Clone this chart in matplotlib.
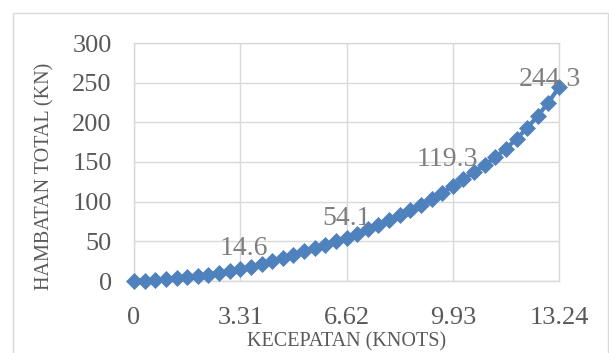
import matplotlib
matplotlib.use("Agg")
import matplotlib.pyplot as plt
from matplotlib.patches import Rectangle

# Ship speed (knots) and total resistance (kN)
speed_knots = [0, 0.331, 0.662, 0.993, 1.324, 1.655, 1.986, 2.317, 2.648, 2.979,
               3.31, 3.641, 3.972, 4.303, 4.634, 4.965, 5.296, 5.627, 5.958, 6.289,
               6.62, 6.951, 7.282, 7.613, 7.944, 8.275, 8.606, 8.937, 9.268, 9.599,
               9.93, 10.261, 10.592, 10.923, 11.254, 11.585, 11.916, 12.247, 12.578, 12.909,
               13.24]
total_resistance_kn = [0, 0.6, 1.3, 2.1, 3.2, 4.6, 6.3, 8.1, 10.1, 12.3,
                       14.6, 18.2, 21.9, 25.6, 29.4, 33.3, 37.3, 41.4, 45.6, 49.8,
                       54.1, 59.5, 65.1, 71.0, 77.1, 83.3, 89.7, 96.4, 103.4, 111.0,
                       119.3, 128.0, 137.0, 146.0, 156.0, 167.0, 179.0, 193.0, 208.0, 225.0,
                       244.3]

x_ticks = [0, 3.31, 6.62, 9.93, 13.24]
x_tick_labels = ["0", "3.31", "6.62", "9.93", "13.24"]
y_ticks = [0, 50, 100, 150, 200, 250, 300]

# Points that carry a value label, with label offsets (points)
label_idx = [10, 20, 30, 40]
label_offsets = [(2.9, 10.4), (0.4, 9.4), (-3.6, 14.9), (-6.5, 0.5)]

plt.rcParams["font.family"] = ["Liberation Serif", "DejaVu Serif"]

fig = plt.figure(figsize=(6.09, 3.53), dpi=100)
fig.patch.set_facecolor("white")

# chart frame
fig.patches.append(Rectangle((13 / 609, -0.05), (608 - 13) / 609, 1 - 13 / 353 + 0.05,
                             transform=fig.transFigure, fill=False,
                             edgecolor="#d9d9d9", linewidth=1.0))

ax = fig.add_axes([134 / 609, 1 - 281 / 353, (559 - 134) / 609, (281 - 43) / 353])

grid_c = "#d9d9d9"
line_c = "#4F81BD"
tick_c = "#595959"

ax.plot(speed_knots, total_resistance_kn, color=line_c, linewidth=3.0,
        marker="D", markersize=8.2, markerfacecolor=line_c,
        markeredgecolor=line_c, markeredgewidth=0.5, zorder=3, clip_on=False)

for i, (dx, dy) in zip(label_idx, label_offsets):
    ax.annotate(f"{total_resistance_kn[i]:.1f}", (speed_knots[i], total_resistance_kn[i]),
                xytext=(dx, dy), textcoords="offset points", ha="center",
                va="baseline", fontsize=20, color="#7f7f7f", zorder=4)

ax.set_xlim(0, 13.24)
ax.set_ylim(0, 300)
ax.set_xticks(x_ticks)
ax.set_xticklabels(x_tick_labels)
ax.set_yticks(y_ticks)

ax.grid(True, color=grid_c, linewidth=1.0)
ax.set_axisbelow(True)
for s in ax.spines.values():
    s.set_color(grid_c)
    s.set_linewidth(1.0)

ax.tick_params(axis="both", length=0, labelsize=19, colors=tick_c)
ax.tick_params(axis="x", pad=19)
ax.tick_params(axis="y", pad=16)

ax.set_xlabel("KECEPATAN (KNOTS)", fontsize=14.5, color=tick_c)
ax.set_ylabel("HAMBATAN TOTAL (KN)", fontsize=14.5, color=tick_c)
ax.xaxis.set_label_coords((347 - 134) / (559 - 134), -(341.7 - 281) / (281 - 43))
ax.yaxis.set_label_coords(-(134 - 45) / (559 - 134), (281 - 176) / (281 - 43))
ax.xaxis.label.set_va("center")
ax.yaxis.label.set_va("center")

fig.savefig("out.png", dpi=100)
